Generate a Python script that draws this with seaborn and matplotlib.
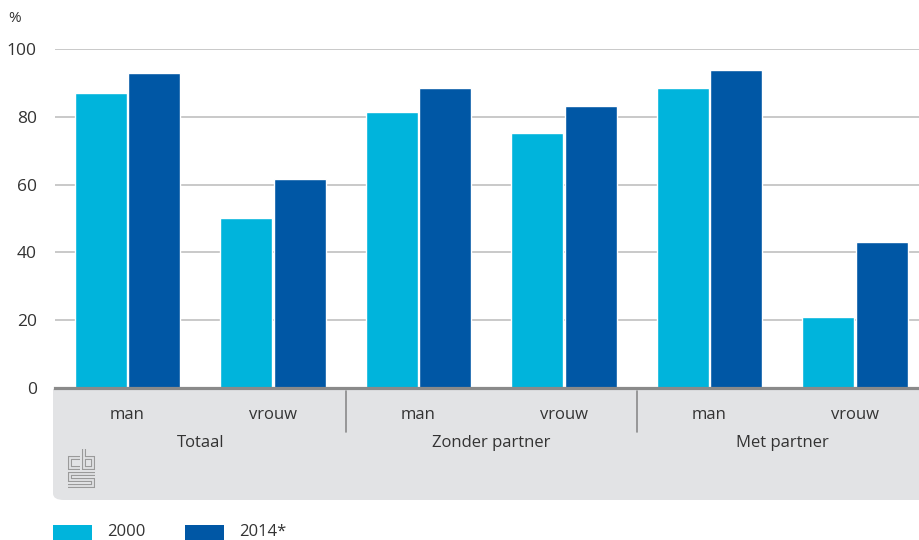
import matplotlib
matplotlib.use("Agg")
import matplotlib.pyplot as plt
from matplotlib.patches import FancyBboxPatch, Rectangle
from matplotlib.lines import Line2D
import matplotlib.transforms as mtransforms
import seaborn as sns
import pandas as pd

# Data
groups = ["Totaal", "Zonder partner", "Met partner"]
sexes = ["man", "vrouw"]
years = ["2000", "2014*"]
values_2000 = [87.0, 50.1, 81.4, 75.2, 88.5, 20.8]
values_2014 = [92.8, 61.7, 88.5, 83.3, 93.8, 43.1]
yticks = [0, 20, 40, 60, 80, 100]

colors = ["#00b4dc", "#0057a5"]
panel_color = "#e2e3e5"
text_color = "#333333"
font = ["Open Sans", "DejaVu Sans"]

keys = [f"{g}|{s}" for g in groups for s in sexes]
df = pd.DataFrame({
    "key": keys * 2,
    "jaar": [years[0]] * 6 + [years[1]] * 6,
    "waarde": values_2000 + values_2014,
})

sns.set_theme(style="white")
plt.rcParams["font.family"] = font

W, H = 920, 540
fig = plt.figure(figsize=(W / 100, H / 100), dpi=100)


def fx(px):
    return px / W


def fy(py):
    return 1 - py / H


ax_left, ax_right, ax_top, ax_bottom = 54.75, 927.75, 49, 388
ax = fig.add_axes([fx(ax_left), fy(ax_bottom), fx(ax_right - ax_left), (ax_bottom - ax_top) / H])

sns.barplot(data=df, x="key", y="waarde", hue="jaar", order=keys, hue_order=years,
            palette=colors, width=0.735, gap=0.03, saturation=1, ax=ax, legend=False,
            zorder=3)

ax.set_xlim(-0.5, len(keys) - 0.5)
ax.set_ylim(0, 100)
ax.set_yticks(yticks)
ax.set_yticklabels([str(v) for v in yticks], fontsize=12.5, color=text_color)
ax.yaxis.grid(True, color="#c0c0c0", linewidth=1.2, zorder=0)
ax.set_axisbelow(True)
ax.tick_params(axis="y", length=0, pad=13)
ax.tick_params(axis="x", length=0, pad=14)
ax.set_xticks(range(len(keys)))
ax.set_xticklabels([k.split("|")[1] for k in keys], fontsize=12, color=text_color)
ax.set_xlabel("")
ax.set_ylabel("")
for side in ["top", "right", "left"]:
    ax.spines[side].set_visible(False)
ax.spines["bottom"].set_color("#8a8a8a")
ax.spines["bottom"].set_linewidth(2.3)
ax.spines["bottom"].set_zorder(5)

# Grey panel beneath the category axis (square top, rounded lower-left corner)
fig.patches.append(Rectangle((fx(53), fy(470)), fx(900), (470 - 389) / H,
                             transform=fig.transFigure, facecolor=panel_color,
                             edgecolor="none", zorder=-2))
fig.patches.append(FancyBboxPatch((fx(53), fy(500)), fx(900), (500 - 430) / H,
                                  boxstyle="round,pad=0,rounding_size=0.012",
                                  transform=fig.transFigure, facecolor=panel_color,
                                  edgecolor="none", zorder=-2))

# Group labels and separators
trans = mtransforms.blended_transform_factory(ax.transData, fig.transFigure)
for i, g in enumerate(groups):
    ax.text(2 * i + 0.5, fy(443), g, transform=trans, ha="center", va="center",
            fontsize=12, color=text_color, clip_on=False)
for xsep in [1.5, 3.5]:
    ax.add_line(Line2D([xsep, xsep], [fy(391), fy(432)], transform=trans,
                       color="#8a8a8a", linewidth=1.2, clip_on=False))

# Unit label
fig.text(fx(8), fy(19), "%", fontsize=11, color=text_color, ha="left", va="center")


# Logo mark: outlined strokes
def outlined(xs, ys):
    xf = [fx(v) for v in xs]
    yf = [fy(v) for v in ys]
    fig.add_artist(Line2D(xf, yf, color="#9a9a9a", linewidth=2.9,
                          solid_joinstyle="miter", solid_capstyle="butt"))
    fig.add_artist(Line2D(xf, yf, color=panel_color, linewidth=1.3,
                          solid_joinstyle="miter", solid_capstyle="butt"))


outlined([80, 70, 70, 80], [457.5, 457.5, 468, 468])
outlined([84, 84, 93, 93, 84], [449, 468, 468, 457.5, 457.5])
outlined([95, 70, 70, 93, 93, 68], [473.5, 473.5, 479.5, 479.5, 485.5, 485.5])

# Legend
for x0, col, lab in [(53, colors[0], years[0]), (185, colors[1], years[1])]:
    fig.patches.append(Rectangle((fx(x0), fy(541)), fx(39), 16 / H,
                                 transform=fig.transFigure, facecolor=col,
                                 edgecolor="none"))
    fig.text(fx(x0 + 54), fy(532), lab, fontsize=12, color=text_color,
             ha="left", va="center")

fig.savefig("out.png", dpi=100, facecolor="white")
